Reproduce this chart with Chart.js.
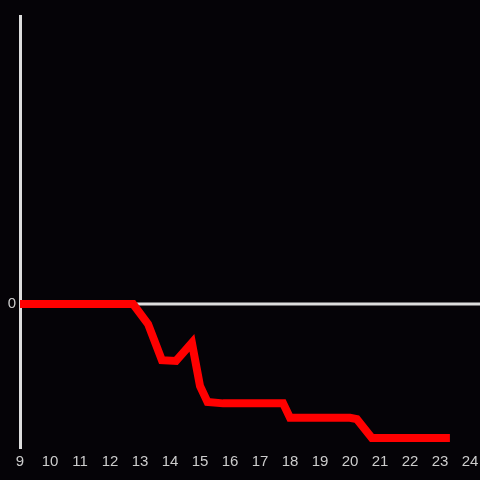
<!DOCTYPE html>
<html><head><meta charset="utf-8">
<style>html,body{margin:0;padding:0;background:#050307;}#wrap{width:480px;height:480px;}</style>
<script src="https://cdn.jsdelivr.net/npm/chart.js@4/dist/chart.umd.min.js"></script>
</head><body><div id="wrap"><canvas id="c" width="480" height="480"></canvas></div>
<script>
const hours = [9, 12.77, 13.27, 13.73, 14.2, 14.73, 15.0, 15.25, 15.77, 17.77, 18.0, 20.0, 20.23, 20.73, 23.33];
const values = [0, 0, -0.14, -0.39, -0.395, -0.27, -0.57, -0.68, -0.69, -0.69, -0.79, -0.79, -0.80, -0.93, -0.93];
const xTicks = [9,10,11,12,13,14,15,16,17,18,19,20,21,22,23,24];

const zeroLine = {
  id: 'zeroLine',
  beforeDatasetsDraw(chart) {
    const y = chart.scales.y.getPixelForValue(0);
    const ctx = chart.ctx;
    ctx.save();
    ctx.strokeStyle = '#dddddd';
    ctx.lineWidth = 3;
    ctx.beginPath();
    ctx.moveTo(chart.chartArea.left, y);
    ctx.lineTo(chart.width, y);
    ctx.stroke();
    ctx.restore();
  }
};

new Chart(document.getElementById('c'), {
  type: 'line',
  data: { datasets: [{ data: hours.map((h, i) => ({x: h, y: values[i]})), borderColor: '#ff0000', borderWidth: 8, pointRadius: 0, tension: 0, borderJoinStyle: 'miter', borderCapStyle: 'butt' }] },
  options: {
    responsive: false, animation: false,
    layout: { padding: { top: 16, right: 10, left: 0, bottom: 0 } },
    plugins: { legend: { display: false }, tooltip: { enabled: false } },
    scales: {
      x: { type: 'linear', min: 9, max: 24,
        afterBuildTicks(s) { s.ticks = xTicks.map(v => ({value: v})); },
        afterFit(s) { s.height = 32; s.paddingRight = 0; s.paddingLeft = 0; },
        grid: { display: false, drawTicks: false },
        border: { display: false },
        ticks: { color: '#cccccc', font: { family: 'Liberation Sans', size: 15 }, padding: 5, maxRotation: 0, autoSkip: false }
      },
      y: { min: -1, max: 2,
        afterBuildTicks(s) { s.ticks = [{value: 0}]; },
        afterFit(s) { s.width = 20; s.paddingTop = 0; s.paddingBottom = 0; },
        grid: { display: false, drawTicks: false },
        border: { display: true, color: '#dddddd', width: 3 },
        ticks: { color: '#cccccc', font: { family: 'Liberation Sans', size: 15 }, padding: 4 }
      }
    }
  },
  plugins: [zeroLine]
});
</script></body></html>
